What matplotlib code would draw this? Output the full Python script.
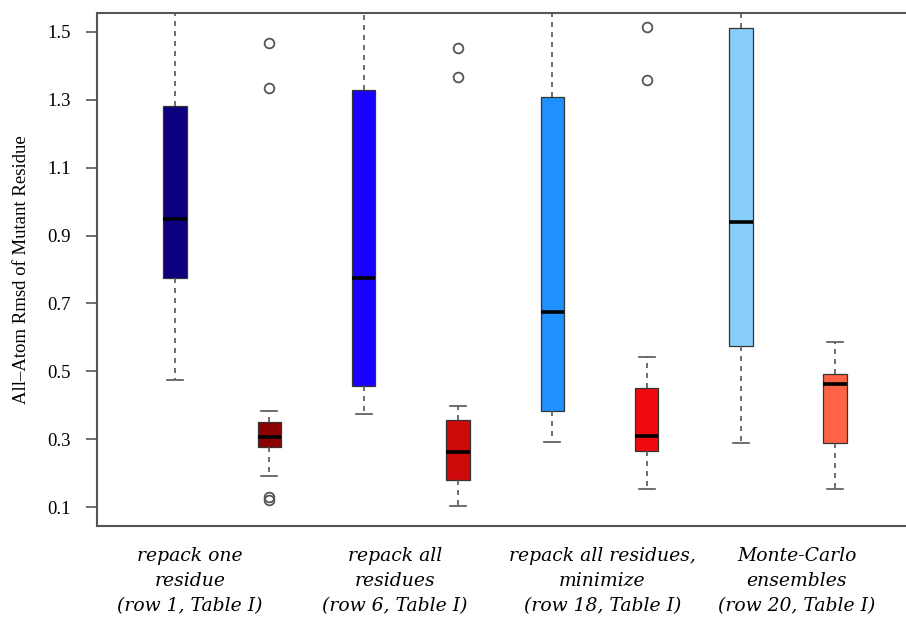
import matplotlib
matplotlib.use("Agg")
import matplotlib.pyplot as plt
import matplotlib.transforms as mtransforms

# box statistics per method (blue = one set, red = the paired set)
positions = [1, 2, 3, 4, 5, 6, 7, 8]
q1 = [0.776, 0.276, 0.456, 0.179, 0.382, 0.265, 0.576, 0.288]
med = [0.950, 0.306, 0.776, 0.262, 0.676, 0.309, 0.941, 0.462]
q3 = [1.282, 0.350, 1.329, 0.356, 1.309, 0.450, 1.512, 0.491]
whislo = [0.474, 0.191, 0.374, 0.103, 0.291, 0.153, 0.288, 0.153]
whishi = [1.62, 0.382, 1.62, 0.397, 1.62, 0.541, 1.60, 0.585]
fliers = [[], [1.468, 1.335, 0.130, 0.122], [], [1.453, 1.367],
          [], [1.515, 1.359], [], []]
colors = ["#0d0080", "#8b0000", "#1a00ff", "#cd0a0a",
          "#1e90ff", "#f00a10", "#87cefa", "#ff6347"]

group_pos = [1.16, 3.33, 5.53, 7.59]
group_labels = ["repack one\nresidue\n(row 1, Table I)",
                "repack all\nresidues\n(row 6, Table I)",
                "repack all residues,\nminimize\n(row 18, Table I)",
                "Monte-Carlo\nensembles\n(row 20, Table I)"]

yticks = [0.1, 0.3, 0.5, 0.7, 0.9, 1.1, 1.3, 1.5]

fig = plt.figure(figsize=(9.06, 6.18), dpi=100)
ax = fig.add_axes([97 / 906, 1 - 526 / 618, 1 - 97 / 906, (526 - 13) / 618])

stats = []
for i in range(len(positions)):
    stats.append(dict(q1=q1[i], med=med[i], q3=q3[i], whislo=whislo[i],
                      whishi=whishi[i], fliers=fliers[i]))

grey = "#555555"
bp = ax.bxp(stats, positions=positions, widths=0.25, capwidths=0.17,
            patch_artist=True, showfliers=True,
            boxprops=dict(edgecolor="#333333", linewidth=0.9),
            medianprops=dict(color="black", linewidth=2.6, solid_capstyle="butt"),
            whiskerprops=dict(color=grey, linewidth=1.2, linestyle=(0, (3, 3))),
            capprops=dict(color=grey, linewidth=1.2),
            flierprops=dict(marker="o", markersize=7, markerfacecolor="none",
                            markeredgecolor=grey, markeredgewidth=1.3))
for patch, c in zip(bp["boxes"], colors):
    patch.set_facecolor(c)

ax.set_xlim(0.173, 8.75)
ax.set_ylim(0.044, 1.556)
ax.set_xticks([])
ax.set_yticks(yticks)
ax.set_yticklabels([f"{v:.1f}" for v in yticks], family="Liberation Serif", fontsize=13.5)
ax.tick_params(axis="y", length=8, width=1.2, color=grey, pad=11)
for side in ["left", "bottom", "top"]:
    ax.spines[side].set_color(grey)
    ax.spines[side].set_linewidth(1.5)
ax.spines["right"].set_visible(False)

ax.set_ylabel("All\u2013Atom Rmsd of Mutant Residue", family="Liberation Serif",
              fontsize=13.5, labelpad=12)

trans = mtransforms.blended_transform_factory(ax.transData, fig.transFigure)
for x, lab in zip(group_pos, group_labels):
    ax.text(x, 1 - 547 / 618, lab, transform=trans, ha="center", va="top",
            multialignment="center", family="DejaVu Serif", style="italic",
            fontsize=13.5, linespacing=1.52)

fig.savefig("out.png", dpi=100)
